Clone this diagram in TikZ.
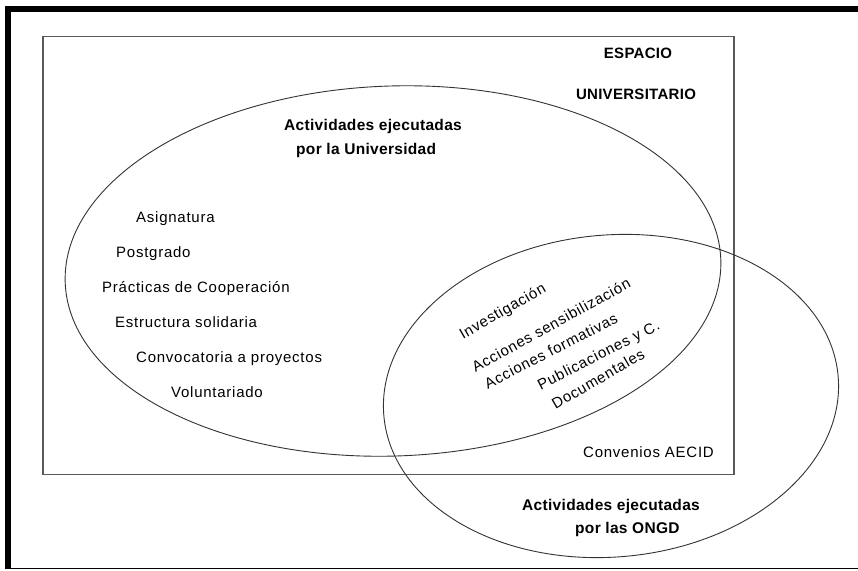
\documentclass[tikz,border=0pt]{standalone}
\usepackage{fontspec}
\setmainfont{Liberation Sans}
\newfontfamily\regfont[LetterSpace=5]{Liberation Sans}
\newfontfamily\ttlfont[LetterSpace=2]{Liberation Sans}
\begin{document}
\begin{tikzpicture}[x=1pt,y=-1pt,
  reg/.style={font=\regfont\fontsize{15}{18}\selectfont, inner sep=0pt, anchor=base west},
  rot/.style={font=\regfont\fontsize{15}{18}\selectfont, inner sep=0pt, anchor=center},
  ttl/.style={font=\ttlfont\bfseries\fontsize{15.5}{18}\selectfont, inner sep=0pt, anchor=base west},
  ttlc/.style={font=\ttlfont\bfseries\fontsize{15}{18}\selectfont, inner sep=0pt, anchor=base},
  venn/.style={draw=black!80, line width=0.9pt},
  frame/.style={draw=black, line width=6pt, line join=miter},
  space/.style={draw=black!65, line width=1.3pt}]
\useasboundingbox (0,0) rectangle (858,570);
\fill[white] (0,0) rectangle (858,570);
% outer frame
\coordinate (fbl) at (8,569);
\coordinate (ftl) at (8,8.5);
\coordinate (ftr) at (858,8.5);
\draw[frame] (fbl) -- (ftl) -- (ftr);
\coordinate (bl) at (8,568.5);
\coordinate (br) at (858,568.5);
\draw[line width=1.1pt] (bl) -- (br);
% university space
\coordinate (rtl) at (43,36.5);
\coordinate (rbr) at (734,474.5);
\draw[space] (rtl) rectangle (rbr);
% ellipses
\coordinate (uc) at (393,271);
\coordinate (oc) at (611,396);
\draw[venn, rotate around={2:(uc)}] (uc) ellipse [x radius=328, y radius=185];
\draw[venn, rotate around={5:(oc)}] (oc) ellipse [x radius=228, y radius=161];
% titles
\node[ttlc] (espacio) at (638,58) {ESPACIO};
\node[ttlc] (univ) at (636,99) {UNIVERSITARIO};
\node[ttl] (au1) at (284,130) {Actividades ejecutadas};
\node[ttl] (au2) at (296,154) {por la Universidad};
\node[ttl] (ao1) at (522,510) {Actividades ejecutadas};
\node[ttl] (ao2) at (575,533) {por las ONGD};
% university list
\node[reg] (l1) at (136,222) {Asignatura};
\node[reg] (l2) at (116,257) {Postgrado};
\node[reg] (l3) at (102,292) {Prácticas de Cooperación};
\node[reg] (l4) at (115,327) {Estructura solidaria};
\node[reg] (l5) at (136,362) {Convocatoria a proyectos};
\node[reg] (l6) at (171,397) {Voluntariado};
% intersection
\node[rot, rotate=30] (i1) at (503,312) {Investigación};
\node[rot, rotate=29] (i2) at (551,325) {Acciones sensibilización};
\node[rot, rotate=27] (i3) at (551,351) {Acciones formativas};
\node[rot, rotate=27] (i4) at (599,356) {Publicaciones y C.};
\node[rot, rotate=30] (i5) at (598,379) {Documentales};
% ONGD only
\node[reg] (conv) at (583,457) {Convenios AECID};
\end{tikzpicture}
\end{document}
